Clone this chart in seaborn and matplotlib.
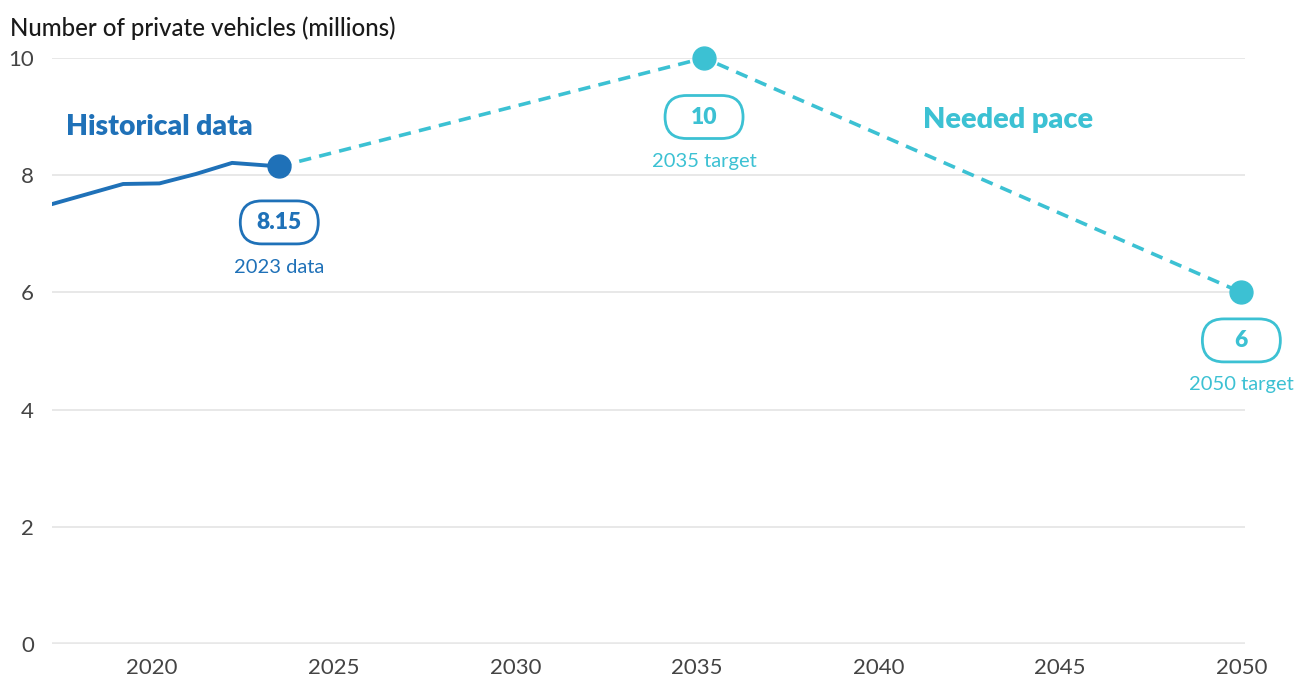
import matplotlib
matplotlib.use("Agg")
import matplotlib.pyplot as plt
import matplotlib.transforms as mtransforms
from matplotlib.patches import FancyBboxPatch
import seaborn as sns
import pandas as pd

# Historical private vehicle counts (millions), by fractional year
hist_years = [2017.2, 2019.2, 2020.2, 2021.2, 2022.2, 2023.5]
hist_values = [7.50, 7.85, 7.86, 8.02, 8.21, 8.15]

# Needed pace: from latest data through the 2035 and 2050 targets
pace_years = [2023.5, 2035.2, 2050.0]
pace_values = [8.15, 10.0, 6.0]

x_ticks = [2020, 2025, 2030, 2035, 2040, 2045, 2050]
y_ticks = [0, 2, 4, 6, 8, 10]

BLUE = "#1f71b8"
CYAN = "#3cc1d3"
GRID = "#e8e8e8"

sns.set_style("white")
plt.rcParams["font.family"] = ["Lato", "DejaVu Sans"]

fig = plt.figure(figsize=(12.95, 6.82), dpi=100)
W, H = 1295, 682
ax = fig.add_axes([52 / W, 1 - 644 / H, (1245 - 52) / W, (644 - 58) / H])

hist = pd.DataFrame({"year": hist_years, "value": hist_values})
pace = pd.DataFrame({"year": pace_years, "value": pace_values})

sns.lineplot(data=pace, x="year", y="value", ax=ax, color=CYAN, lw=2.6,
             dashes=False, zorder=3, clip_on=False)
ax.lines[-1].set_linestyle((0, (3.4, 2.3)))
sns.lineplot(data=hist, x="year", y="value", ax=ax, color=BLUE, lw=2.8,
             zorder=4)

# End-point markers
ax.plot(pace_years[0], pace_values[0], "o", ms=16.5, color=BLUE, zorder=6,
        clip_on=False)
ax.plot(pace_years[1:], pace_values[1:], "o", ms=16.5, color=CYAN, ls="none",
        zorder=6, clip_on=False)

ax.set_xlim(2017.24, 2050.1)
ax.set_ylim(0, 10)
ax.set_xticks(x_ticks)
ax.set_yticks(y_ticks)
ax.set_xlabel("")
ax.set_ylabel("")
for s in ax.spines.values():
    s.set_visible(False)
ax.grid(axis="y", color=GRID, lw=1.4, zorder=0)
ax.grid(axis="x", visible=False)
ax.axhline(0, color=GRID, lw=2.6, zorder=1)
ax.tick_params(axis="both", length=0, labelsize=16, colors="#444444")
ax.tick_params(axis="y", pad=13)
ax.tick_params(axis="x", pad=10)


def callout(x, y, value_text, caption, color, box_dy, cap_dy):
    """Rounded value pill plus caption placed below a data point (offsets in pixels)."""
    base = mtransforms.ScaledTranslation(x, y, ax.transData)
    tr = mtransforms.Affine2D() + base
    bw, bh = 78, 43
    box = FancyBboxPatch((-bw / 2, box_dy - bh / 2), bw, bh,
                         boxstyle=f"round,pad=0,rounding_size={bh / 2}",
                         transform=tr, facecolor="white", edgecolor=color,
                         lw=2.0, clip_on=False, zorder=7)
    ax.add_patch(box)
    ax.text(0, box_dy, value_text, transform=tr, ha="center", va="center",
            fontsize=16.5, fontweight="heavy", color=color, zorder=8)
    ax.text(0, cap_dy, caption, transform=tr, ha="center", va="center",
            fontsize=14.5, color=color, zorder=8)


callout(pace_years[0], pace_values[0], f"{pace_values[0]:.2f}", "2023 data",
        BLUE, -56, -101)
callout(pace_years[1], pace_values[1], f"{pace_values[1]:g}", "2035 target",
        CYAN, -59, -103)
callout(pace_years[2], pace_values[2], f"{pace_values[2]:g}", "2050 target",
        CYAN, -48, -92)

fig.text(66 / W, 1 - 127 / H, "Historical data", ha="left", va="center",
         fontsize=20.3, fontweight="heavy", color=BLUE)
fig.text(923 / W, 1 - 120 / H, "Needed pace", ha="left", va="center",
         fontsize=20.8, fontweight="heavy", color=CYAN)
fig.text(10 / W, 1 - 28 / H, "Number of private vehicles (millions)",
         ha="left", va="center", fontsize=17.3, fontweight="medium",
         color="#1a1a1a")

fig.savefig("out.png", dpi=100)
